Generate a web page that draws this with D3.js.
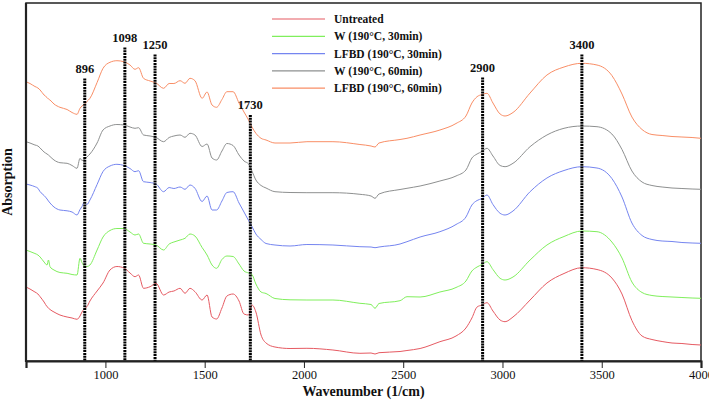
<!DOCTYPE html>
<html>
<head>
<meta charset="utf-8">
<script src="https://cdn.jsdelivr.net/npm/d3@7"></script>
<style>
html,body{margin:0;padding:0;background:#fff;}
svg{display:block;}
text{font-family:"Liberation Serif","Times New Roman",serif;fill:#111;}
</style>
</head>
<body>
<svg id="chart" width="709" height="403"></svg>
<script>
// Wavenumber grid (cm^-1)
const wavenumbers = [600,620,645,660,671,691,706,713,721,741,771,807,832,857,872,882,893,907,922,958,988,1023,1058,1094,1124,1149,1167,1192,1225,1255,1293,1321,1345,1376,1401,1426,1451,1487,1512,1537,1560,1587,1612,1643,1673,1698,1721,1738,1758,1784,1809,1854,1930,2015,2146,2282,2338,2358,2378,2484,2519,2585,2685,2766,2816,2846,2872,2897,2922,2952,2988,3013,3053,3139,3224,3310,3400,3476,3551,3602,3652,3703,3753,3804,3854,3904,3955,4000];

// Absorption (arbitrary units, stacked with offsets as in the figure)
const untreated = [74,72,69,67,64.3,59,54.3,53,51.5,49,46,44,43,41.7,45,49,52,54.3,60,70,78,91,94.5,93,88,84.3,86,72.7,74.3,77.7,66,69,70,72.7,67.7,72.7,69.3,61,66,44,42,53,65,67,60,47,46,56,49,26,18,14,12.5,12.7,11,7.7,8,7,8.3,9.5,10.5,12.5,19.3,25,33,43,54,56,58.3,50,41,39.3,44,61,78,87.5,93.3,91.5,83,67,40.5,25,21.5,19.5,18,17.5,16.5,16];
const w30 = [111,109.5,107.5,106,104,99,96,101,94.3,91,88.5,87.7,86.5,86,102.7,98.5,95,94.5,96,111,124,130.5,132.5,132.5,129,126,127,117.7,117,116,111,117,119,121,122.7,127,125,113.5,106,96,92.7,101.5,105,104.5,97,90,88,86.5,77,69,67.5,62.5,61.2,61,61,57.7,56.5,52.7,57.5,60.3,64.3,64,69,73.5,80,90,94,96.5,99.3,91.5,82.7,81,84,101,116,124.5,130,129.3,119,103,79,68.5,65.5,64.5,64,63.5,63,62.7];
const lfbd30 = [177,176,174.3,172.7,169.3,165.5,162,160,158,154,151,150.2,149,146,151.5,154.5,158.5,156.5,161,176.5,189.5,195,196.7,195.5,192.5,189.3,190.3,179.3,178.5,177,169.3,173.5,172.5,174,171.7,176,172.7,159.5,165,151,151,160,168.5,169.3,158,149,140.5,134.5,127,121.5,117.5,116,115,116.5,116,114.3,114,113.3,114,117,119.3,124,129.3,136.5,144,156,160.5,162.5,166,156.5,147.7,146,150,169.3,183,190.5,194.3,193,182.5,164,138,125.5,121.5,120,119.5,118.5,118,117.7];
const w60 = [219.3,218,216,215,213,209,207,206,204.5,201,198.3,197.7,195.5,192.7,202.7,200.5,201.5,204,207,218,231,235,236.5,236,234,232.7,233.3,226,225,223.5,219.3,223.5,225,226,223.7,227.7,226,214.5,217,203,201,210,217.5,215.5,206,200,197,190,181,175.5,173,169.3,168.5,168.3,168.3,166.7,165,162.7,167,171.5,172.7,175,180,185,191,203,207,209.5,212.7,205,195.5,194.3,197.7,214.3,226,232.7,235,234.3,227,211.5,190,179,175.5,174,173,172.5,172,171.7];
const lfbd60 = [279.3,277.5,274.5,273,271,266,263.5,262,261,257,253.7,251.5,248.5,246.7,252.7,255,256.5,259.5,262.7,278.5,292.7,298.7,300.3,299.2,296,291.7,293.3,282.7,280,278,272.7,277.5,277.5,280.3,277.7,282.7,280.3,262.7,269,256,253.7,261.5,269.3,269.3,258,249,241,234,227.7,222.7,221,218,218,219.3,219.3,216.5,215,214,218,221.5,222.7,226,231,237.5,245,258,264.3,266.5,267.7,258,247,245,248.5,268,286,294,297.7,296,285.5,267,244,231.5,226.5,225.5,224.5,224,223.5,222.7];

const seriesNames = ["Untreated","W (190°C, 30min)","LFBD (190°C, 30min)","W (190°C, 60min)","LFBD (190°C, 60min)"];
const seriesColors = ["#e65a62","#80ef5c","#7585f0","#8e9090","#f98e66"];
const seriesValues = [untreated, w30, lfbd30, w60, lfbd60];

// Peak markers
const peakPositions = [896,1098,1250,1730,2900,3400];
const peakLabels = ["896","1098","1250","1730","2900","3400"];
const peakTops = [282.5,313.5,306.5,246,283.5,306.5]; // marker top, in absorption units

const xTicks = [1000,1500,2000,2500,3000,3500,4000];

const svg = d3.select("#chart");
const x = d3.scaleLinear().domain([600,4000]).range([26,701]);
const y = d3.scaleLinear().domain([0,358]).range([361,3]);

// frame (top/right thin)
svg.append("rect").attr("x",26).attr("y",3).attr("width",675).attr("height",358)
  .attr("fill","none").attr("stroke","#222").attr("stroke-width",1.5);

// curves
const line = d3.line().x(d=>x(d[0])).y(d=>y(d[1])).curve(d3.curveMonotoneX);
seriesValues.forEach((vals,i)=>{
  const pts = wavenumbers.map((w,j)=>[w,vals[j]]);
  svg.append("path").datum(pts).attr("d",line).attr("fill","none")
    .attr("stroke",seriesColors[i]).attr("stroke-width",1);
});

// peak markers
peakPositions.forEach((p,i)=>{
  svg.append("line").attr("x1",x(p)).attr("x2",x(p)).attr("y1",y(peakTops[i])).attr("y2",y(0))
    .attr("stroke","#000").attr("stroke-width",3).attr("stroke-dasharray","2,0.8");
  svg.append("text").attr("x",x(p)).attr("y",y(peakTops[i])-6).attr("text-anchor","middle")
    .attr("font-size","12.5px").attr("font-weight","bold").text(peakLabels[i]);
});

// axes
const xAxis = d3.axisBottom(x).tickValues(xTicks).tickSize(7).tickPadding(2).tickFormat(d3.format("d"));
const gx = svg.append("g").attr("transform","translate(0,361)").call(xAxis);
gx.select(".domain").attr("stroke","#222").attr("stroke-width",2.2);
gx.selectAll(".tick line").attr("stroke","#222").attr("stroke-width",1);
gx.selectAll(".tick text").attr("font-family","Liberation Serif, serif").attr("font-size","12.5px").attr("fill","#111");

svg.append("line").attr("x1",26).attr("x2",26).attr("y1",3).attr("y2",362)
  .attr("stroke","#222").attr("stroke-width",2.2);

svg.append("text").attr("x",363.5).attr("y",396).attr("text-anchor","middle")
  .attr("font-size","14px").attr("font-weight","bold").text("Wavenumber (1/cm)");
svg.append("text").attr("transform","translate(12,182) rotate(-90)").attr("text-anchor","middle")
  .attr("font-size","14px").attr("font-weight","bold").text("Absorption");

// legend
const lg = svg.append("g");
seriesNames.forEach((n,i)=>{
  const ly = 19 + i*17.3;
  lg.append("line").attr("x1",272).attr("x2",325).attr("y1",ly).attr("y2",ly)
    .attr("stroke",seriesColors[i]).attr("stroke-width",1.2);
  lg.append("text").attr("x",334).attr("y",ly+4).attr("font-size","11.5px").attr("font-weight","bold").text(n);
});
</script>
</body>
</html>
